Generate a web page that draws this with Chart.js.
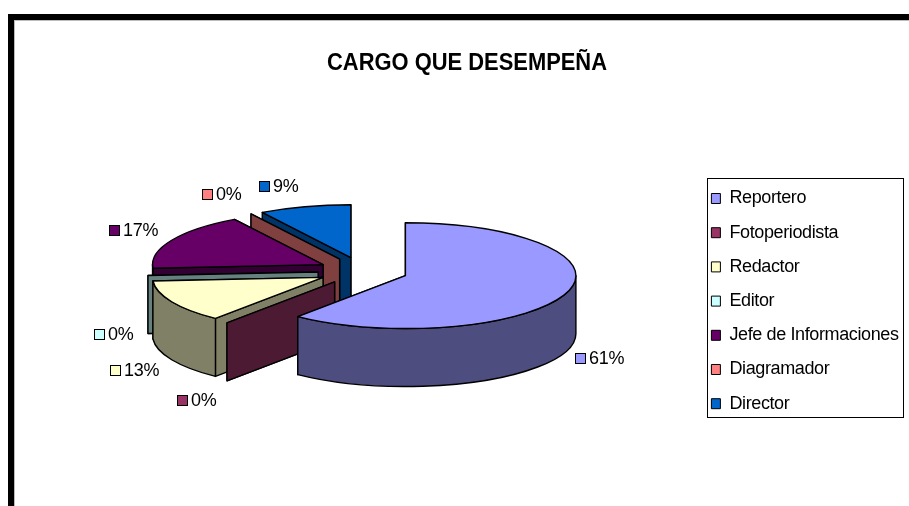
<!DOCTYPE html>
<html>
<head>
<meta charset="utf-8">
<style>html,body{margin:0;padding:0;background:#fff}canvas{display:block}</style>
<script src="https://cdn.jsdelivr.net/npm/chart.js@4"></script>
</head>
<body>
<canvas id="c" width="909" height="506"></canvas>
<script>
const chartTitle = 'CARGO QUE DESEMPEÑA';
const categories = ['Reportero','Fotoperiodista','Redactor','Editor','Jefe de Informaciones','Diagramador','Director'];
const values = [14,0,3,0,4,0,2];
const topColors = ['#9999FF','#993366','#FFFFCC','#CCFFFF','#660066','#FF8080','#0066CC'];
const sideColors = ['#4D4D80','#4D1A33','#808066','#668080','#330033','#804040','#003366'];
// Anchor of each percentage label (swatch left edge, vertical centre)
const labelAnchors = [[575,358],[177,400],[110,370],[94,334],[109,230],[202,194],[259,186]];

const TILT = 0.31, DEPTH = 58, EXPLODE = 45;
const FONT = '"Liberation Sans", Arial, sans-serif';
const TITLE_X = 467, TITLE_SQUEEZE = 0.913;

const pie3d = {
  id: 'pie3d',
  afterLayout(chart) {
    const t = chart.titleBlock;
    const shift = TITLE_X - (t.left + t.right) / 2;
    t.left += shift; t.right += shift;
    if (!t._squeezed) {
      t._squeezed = true;
      const draw = t.draw.bind(t);
      t.draw = () => {
        const c = chart.ctx;
        c.save();
        c.translate(TITLE_X, 0); c.scale(TITLE_SQUEEZE, 1); c.translate(-TITLE_X, 0);
        draw();
        c.restore();
      };
    }
    const l = chart.legend;
    l.left = 695.2; l.right = 903; l.top = 173.3; l.bottom = 490;
    if (!l._tight) {
      l._tight = true;
      const draw = l.draw.bind(l);
      l.draw = () => {
        const c = chart.ctx;
        c.save();
        c.letterSpacing = '-0.38px';
        draw();
        c.restore();
      };
    }
  },
  beforeDraw(chart) {
    const c = chart.ctx;
    c.save();
    c.fillStyle = '#fff'; c.fillRect(0, 0, 909, 506);
    c.fillStyle = '#bbb'; c.fillRect(14, 20, 1, 486); c.fillRect(14, 20, 895, 1);
    c.fillStyle = '#000'; c.fillRect(8, 14, 6, 492); c.fillRect(8, 14, 901, 6);
    c.restore();
  },
  beforeDatasetDraw(chart, args) {
    const c = chart.ctx;
    const arcs = args.meta.data;
    c.save();
    c.lineWidth = 1.4; c.strokeStyle = '#000'; c.lineJoin = 'round';
    for (let i = arcs.length - 1; i >= 0; i--) {
      const a = arcs[i], a0 = a.startAngle, a1 = a.endAngle, R = a.outerRadius;
      const mid = (a0 + a1) / 2;
      const cx = a.x + EXPLODE * Math.cos(mid), cy = a.y + EXPLODE * TILT * Math.sin(mid);
      const ry = R * TILT;
      const pts = [a0, a1].map(t => [cx + R * Math.cos(t), cy + ry * Math.sin(t)]).sort((p, q) => p[1] - q[1]);
      c.fillStyle = sideColors[i];
      pts.forEach(p => {
        c.beginPath();
        c.moveTo(cx, cy); c.lineTo(p[0], p[1]); c.lineTo(p[0], p[1] + DEPTH); c.lineTo(cx, cy + DEPTH);
        c.closePath(); c.fill(); c.stroke();
      });
      const f0 = Math.max(a0, 0), f1 = Math.min(a1, Math.PI);
      if (f1 > f0) {
        c.beginPath();
        c.ellipse(cx, cy, R, ry, 0, f0, f1);
        c.ellipse(cx, cy + DEPTH, R, ry, 0, f1, f0, true);
        c.closePath(); c.fill(); c.stroke();
      }
      if (a1 > a0) {
        c.fillStyle = topColors[i];
        c.beginPath();
        c.moveTo(cx, cy);
        c.ellipse(cx, cy, R, ry, 0, a0, a1);
        c.closePath(); c.fill(); c.stroke();
      }
    }
    c.restore();
    return false;
  },
  afterDraw(chart) {
    const c = chart.ctx;
    const total = values.reduce((s, v) => s + v, 0);
    c.save();
    c.strokeStyle = '#000'; c.lineWidth = 1;
    c.strokeRect(707.5, 178.5, 196, 239);
    c.font = '18px ' + FONT; c.textBaseline = 'middle'; c.textAlign = 'left';
    c.letterSpacing = '-0.3px';
    values.forEach((v, i) => {
      const [x, y] = labelAnchors[i];
      c.fillStyle = topColors[i];
      c.fillRect(x + .5, y - 4.5, 10, 10);
      c.strokeRect(x + .5, y - 4.5, 10, 10);
      c.fillStyle = '#000';
      c.fillText(Math.round(v / total * 100) + '%', x + 14, y + 1);
    });
    c.restore();
  }
};

new Chart(document.getElementById('c'), {
  type: 'pie',
  data: { labels: categories, datasets: [{ data: values, backgroundColor: topColors, borderColor: '#000', borderWidth: 1 }] },
  options: {
    responsive: false,
    animation: false,
    layout: { padding: { left: 0, right: 183, top: 49, bottom: 64 } },
    plugins: {
      title: { display: true, text: chartTitle, color: '#000', font: { family: FONT, size: 24, weight: 'bold', lineHeight: 1.2 }, padding: { top: 0, bottom: 22.2 } },
      legend: { position: 'chartArea', align: 'start',
        labels: { color: '#000', font: { family: FONT, size: 18 }, boxWidth: 9, boxHeight: 10, padding: 16.2 } },
      tooltip: { enabled: false }
    }
  },
  plugins: [pie3d]
});
</script>
</body>
</html>
